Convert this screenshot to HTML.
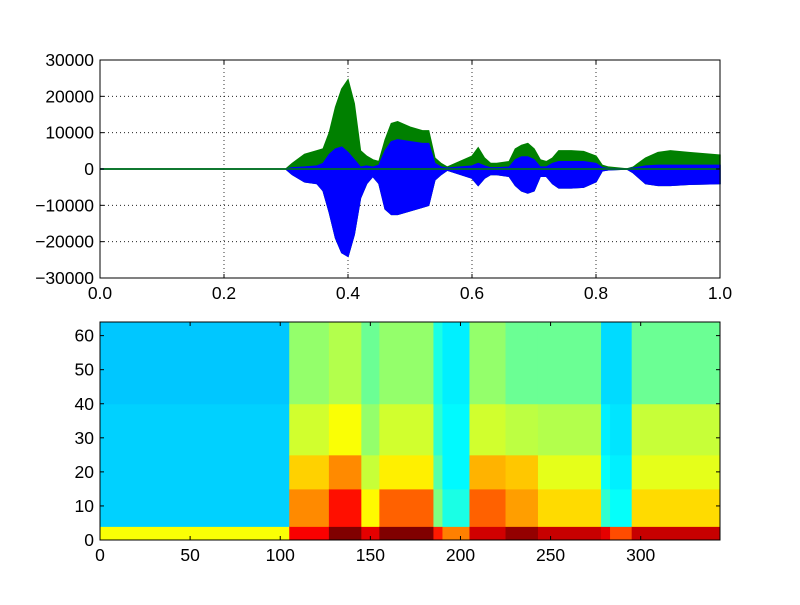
<!DOCTYPE html>
<html><head><meta charset="utf-8"><style>
body{margin:0;background:#fff;}
svg text{font-family:"Liberation Sans","DejaVu Sans",sans-serif;font-size:17.5px;fill:#000;}
</style></head><body>
<svg id="fig" width="800" height="600" xmlns="http://www.w3.org/2000/svg">
<rect width="800" height="600" fill="#fff"/>
<g id="topAxes"></g>
<g id="botAxes"></g>
</svg>
<script>
// Waveform envelope data
const waveT =     [0,0.30,0.31,0.33,0.35,0.36,0.37,0.38,0.39,0.40,0.41,0.42,0.43,0.44,0.45,0.46,0.47,0.48,0.50,0.52,0.53,0.54,0.55,0.56,0.60,0.61,0.62,0.63,0.64,0.66,0.67,0.68,0.69,0.70,0.71,0.72,0.73,0.74,0.76,0.78,0.80,0.81,0.82,0.85,0.86,0.88,0.90,0.92,0.95,1.0];
const greenMax =  [0,0,1500,4000,5000,5500,10000,17000,22000,24500,18000,5000,3500,2500,2000,8000,12500,13000,11500,10500,10500,3000,1500,500,3500,5800,3000,1500,1500,2000,5500,6500,7000,5500,2500,2000,3000,5000,5000,4800,3500,1000,500,0,500,3000,4500,5000,4500,3800];
const blueMax =   [0,0,300,500,800,1500,4000,5500,6000,4500,2500,500,800,500,1000,5000,7500,8000,7500,7000,7000,1500,500,200,800,1500,800,300,300,500,2500,3300,3300,2500,500,500,1500,2000,2000,2000,1500,300,100,0,200,800,1000,1000,1000,1000];
const blueMin =   [0,0,-1500,-3500,-4000,-6000,-12000,-19000,-23000,-24000,-18000,-8000,-4000,-2000,-4000,-11000,-12500,-12500,-11500,-10500,-10000,-3000,-1500,-300,-2500,-4500,-2500,-1500,-1500,-2000,-4500,-6000,-6600,-6000,-2000,-2000,-4000,-5200,-5200,-5000,-3500,-500,-200,0,-1000,-4000,-4500,-4500,-4200,-4000];
const topYTicks = [-30000,-20000,-10000,0,10000,20000,30000];
const topXTicks = ["0.0","0.2","0.4","0.6","0.8","1.0"];

// Spectrogram data: column segments and band intensities (0..1)
const segStart = [0,105,127,145,155,185,190,205,225,243,278,283,295];
const segEnd   = [105,127,145,155,185,190,205,225,243,278,283,295,344];
const bandEdges = [0,4,15,25,40,64];
const band0 = [0.62,0.88,1.0,0.9,1.0,0.85,0.75,0.92,0.98,0.93,0.9,0.8,0.93];
const band1 = [0.33,0.74,0.86,0.63,0.78,0.5,0.4,0.78,0.72,0.66,0.42,0.38,0.66];
const band2 = [0.33,0.67,0.74,0.57,0.64,0.46,0.37,0.7,0.68,0.6,0.38,0.36,0.6];
const band3 = [0.33,0.58,0.62,0.52,0.58,0.42,0.37,0.58,0.56,0.55,0.36,0.35,0.57];
const band4 = [0.32,0.52,0.55,0.48,0.52,0.4,0.36,0.52,0.48,0.48,0.34,0.34,0.48];
const botXTicks = [0,50,100,150,200,250,300];
const botYTicks = [0,10,20,30,40,50,60];

const NS='http://www.w3.org/2000/svg';
function mk(tag,attrs,parent){const e=document.createElementNS(NS,tag);for(const k in attrs)e.setAttribute(k,attrs[k]);parent.appendChild(e);return e;}

const L=100,R=720,T1=60,B1=278;
const topAx=document.getElementById('topAxes');
const tx=t=>L+t*(R-L);
const ty=v=>169-(v/30000)*109;
for(let i=0;i<topXTicks.length;i++){const x=tx(parseFloat(topXTicks[i]));
 const g=mk('line',{x1:x,x2:x,y1:T1,y2:B1,stroke:'#000','stroke-width':0.8,'stroke-dasharray':'1,3'},topAx);
 
 }
for(const v of topYTicks){const y=ty(v);
 const g=mk('line',{x1:L,x2:R,y1:y,y2:y,stroke:'#000','stroke-width':0.8,'stroke-dasharray':'1,3'},topAx);
 
 }
let gp=[];for(let i=0;i<waveT.length;i++)gp.push(tx(waveT[i])+','+ty(greenMax[i]));
for(let i=waveT.length-1;i>=0;i--)gp.push(tx(waveT[i])+','+ty(blueMin[i]));
const gEl=mk('polygon',{points:gp.join(' '),fill:'#008000',stroke:'#008000','stroke-width':1.5},topAx);


let bp=[];for(let i=0;i<waveT.length;i++)bp.push(tx(waveT[i])+','+ty(blueMax[i]));
for(let i=waveT.length-1;i>=0;i--)bp.push(tx(waveT[i])+','+ty(blueMin[i]));
const bEl=mk('polygon',{points:bp.join(' '),fill:'#0000ff',stroke:'#0000ff','stroke-width':1.5},topAx);


mk('line',{x1:L,x2:R,y1:169,y2:169,stroke:'#008000','stroke-width':1.5},topAx);
mk('rect',{x:L,y:T1,width:R-L,height:B1-T1,fill:'none',stroke:'#000','stroke-width':1},topAx);
for(const s of topXTicks){const x=tx(parseFloat(s));
 mk('line',{x1:x,x2:x,y1:B1,y2:B1-4,stroke:'#000'},topAx);mk('line',{x1:x,x2:x,y1:T1,y2:T1+4,stroke:'#000'},topAx);
 const t=mk('text',{x:x,y:B1+21,'text-anchor':'middle'},topAx);t.textContent=s;
 
 }
for(const v of topYTicks){const y=ty(v);
 mk('line',{x1:L,x2:L+4,y1:y,y2:y,stroke:'#000'},topAx);mk('line',{x1:R,x2:R-4,y1:y,y2:y,stroke:'#000'},topAx);
 const t=mk('text',{x:L-6,y:y+6,'text-anchor':'end'},topAx);t.textContent=(v<0?'\u2212'+(-v):v);
 
 }

const T2=322,B2=540;
const botAx=document.getElementById('botAxes');
const bx=f=>L+f*(R-L)/344;
const by=f=>B2-f*(B2-T2)/64;
function jet(v){v=Math.max(0,Math.min(1,v));
 const r=Math.max(0,Math.min(1,1.5-Math.abs(4*v-3))),g=Math.max(0,Math.min(1,1.5-Math.abs(4*v-2))),b=Math.max(0,Math.min(1,1.5-Math.abs(4*v-1)));
 return 'rgb('+Math.round(r*255)+','+Math.round(g*255)+','+Math.round(b*255)+')';}
const bands=[band0,band1,band2,band3,band4];
for(let s=0;s<segStart.length;s++){
 for(let b=0;b<bands.length;b++){
  const c=mk('rect',{x:bx(segStart[s]),y:by(bandEdges[b+1]),width:bx(segEnd[s])-bx(segStart[s])+0.5,height:by(bandEdges[b])-by(bandEdges[b+1])+0.5,fill:jet(bands[b][s])},botAx);
  
  
 }}
mk('rect',{x:L,y:T2,width:R-L,height:B2-T2,fill:'none',stroke:'#000','stroke-width':1},botAx);
for(const v of botXTicks){const x=bx(v);
 mk('line',{x1:x,x2:x,y1:B2,y2:B2-4,stroke:'#000'},botAx);mk('line',{x1:x,x2:x,y1:T2,y2:T2+4,stroke:'#000'},botAx);
 const t=mk('text',{x:x,y:B2+21,'text-anchor':'middle'},botAx);t.textContent=v;
 
 }
for(const v of botYTicks){const y=by(v);
 mk('line',{x1:L,x2:L+4,y1:y,y2:y,stroke:'#000'},botAx);mk('line',{x1:R,x2:R-4,y1:y,y2:y,stroke:'#000'},botAx);
 const t=mk('text',{x:L-6,y:y+6,'text-anchor':'end'},botAx);t.textContent=v;
 
 }
</script>
</body></html>
